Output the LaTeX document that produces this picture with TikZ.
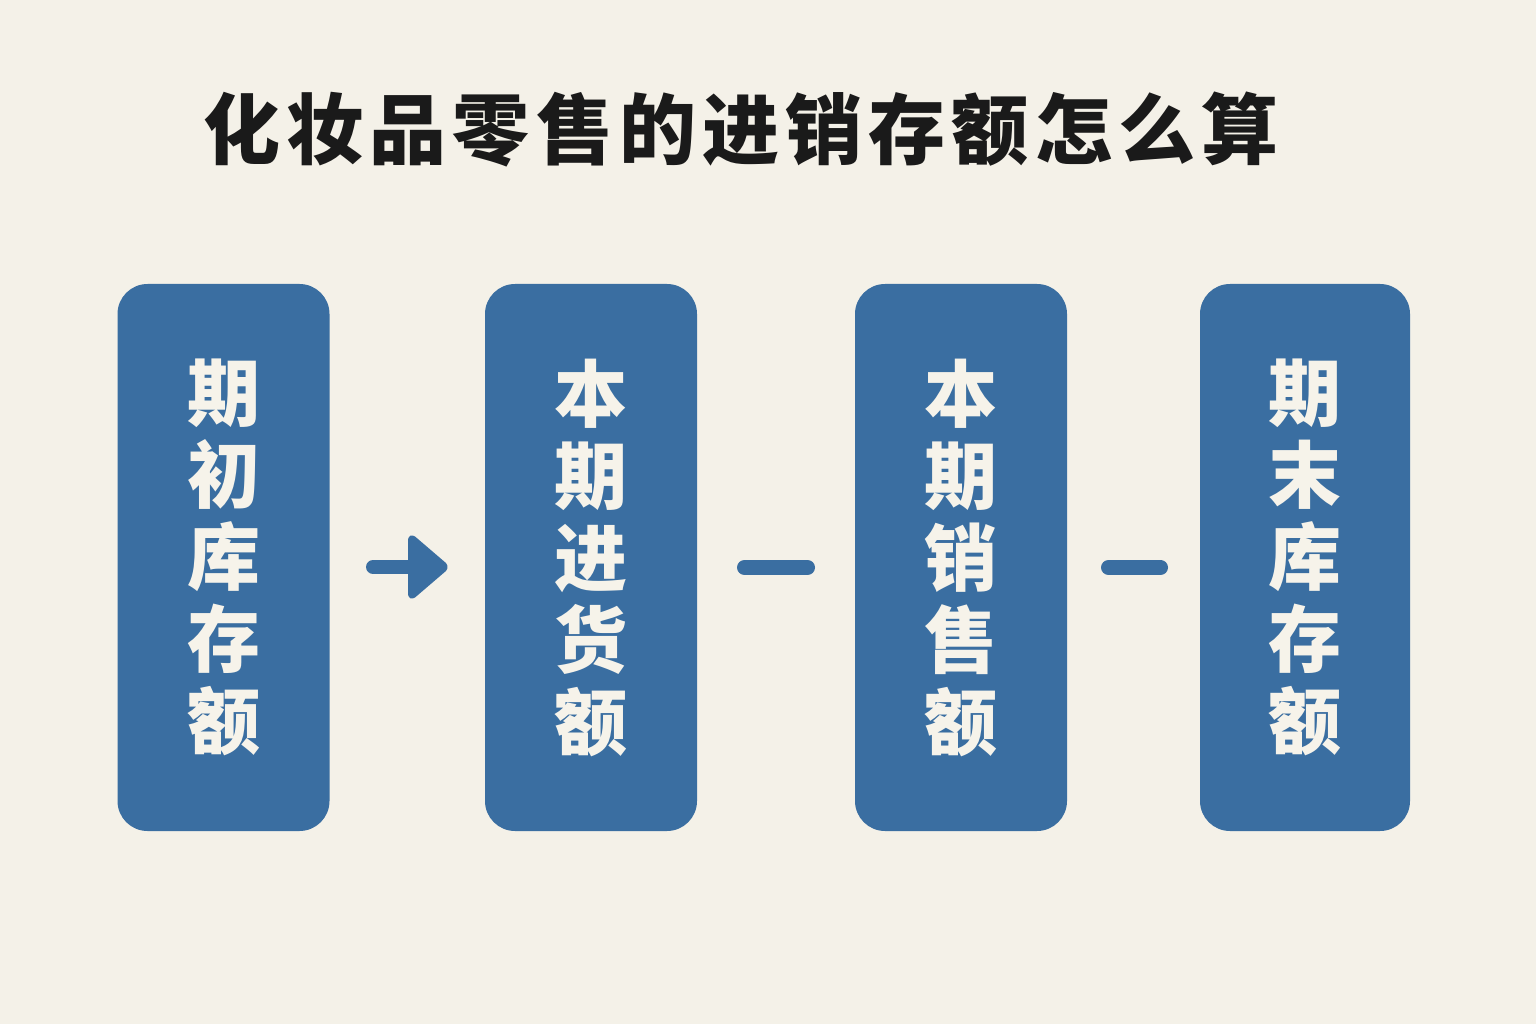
\documentclass[tikz,border=0pt]{standalone}
\usepackage{fontspec}
\newfontfamily\cjk{Noto Sans CJK SC}
\newfontfamily\cjkspaced{Noto Sans CJK SC}[LetterSpace=8]
\definecolor{bg}{HTML}{F4F1E8}
\definecolor{boxblue}{HTML}{3A6EA1}
\definecolor{titlecol}{HTML}{1A1A1A}
\definecolor{txtw}{HTML}{F6F3EA}
\begin{document}
\begin{tikzpicture}[x=1pt,y=-1pt,
  stepbox/.style={fill=boxblue, rounded corners=30pt, minimum width=212pt, minimum height=547pt, inner sep=0pt,
    text=txtw, font=\cjk\bfseries\fontsize{73}{82}\selectfont, align=center},
  sym/.style={fill=boxblue, draw=boxblue, line join=round, line cap=round}]
\fill[bg] (0,0) rectangle (1536,1024);
\useasboundingbox (0,0) rectangle (1536,1024);
\node[text=titlecol, font=\cjkspaced\bfseries\fontsize{77}{80}\selectfont] (title) at (741,130) {化妆品零售的进销存额怎么算};
\node[stepbox] (b1) at (223.5,557.5) {期\\初\\库\\存\\额};
\node[stepbox] (b2) at (591,557.5) {本\\期\\进\\货\\额};
\node[stepbox] (b3) at (961,557.5) {本\\期\\销\\售\\额};
\node[stepbox, minimum width=210pt] (b4) at (1305,557.5) {期\\末\\库\\存\\额};
% arrow
\draw[sym, line width=14pt] (373,567) -- (412,567);
\draw[sym, line width=6pt, rounded corners=3pt] (411,537) -- (446,567) -- (411,597) -- cycle;
% minus signs
\draw[sym, line width=15pt] (744.5,567.5) -- (807.5,567.5);
\draw[sym, line width=15pt] (1108.5,567.5) -- (1160.5,567.5);
\end{tikzpicture}
\end{document}
